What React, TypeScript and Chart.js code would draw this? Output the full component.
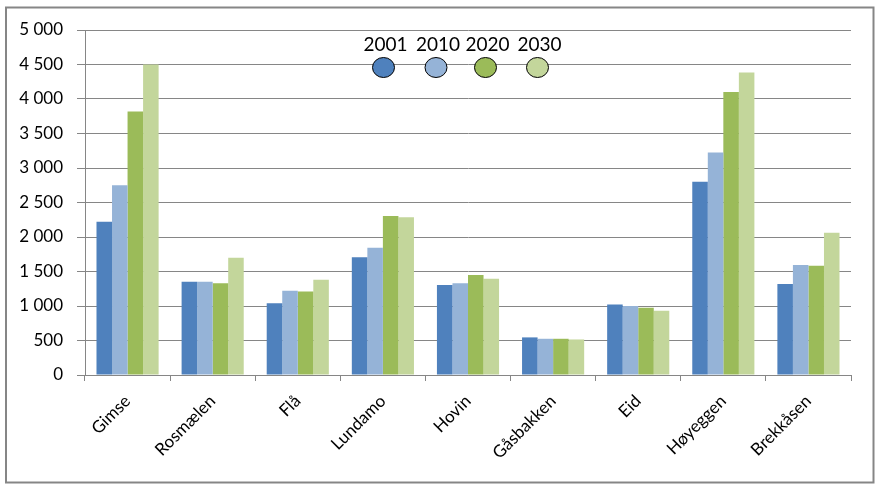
import React, { useEffect, useRef } from "react";
import { Chart, registerables } from "chart.js";

Chart.register(...registerables);

const categories = ["Gimse", "Rosmælen", "Flå", "Lundamo", "Hovin", "Gåsbakken", "Eid", "Høyeggen", "Brekkåsen"];
const seriesLabels = ["2001", "2010", "2020", "2030"];
const values2001 = [2220, 1350, 1040, 1705, 1305, 545, 1020, 2800, 1320];
const values2010 = [2750, 1350, 1220, 1845, 1330, 525, 1000, 3225, 1595];
const values2020 = [3820, 1330, 1210, 2305, 1450, 525, 975, 4100, 1585];
const values2030 = [4500, 1700, 1380, 2285, 1395, 515, 930, 4385, 2060];
const seriesColors = ["#4F81BD", "#95B3D7", "#9BBB59", "#C3D69B"];
const yTickMax = 5000;
const yTickStep = 500;

const FONT = "Lato, 'Open Sans', sans-serif";

const fmt = (v: number) => String(v).replace(/\B(?=(\d{3})+(?!\d))/g, " ");

const frameAndLegend = {
  id: "frameAndLegend",
  afterDraw(chart: any) {
    const ctx = chart.ctx;
    ctx.save();
    // outer frame
    ctx.strokeStyle = "#868686";
    ctx.lineWidth = 2;
    ctx.strokeRect(6, 7.5, 867.5, 475);
    // legend
    const centers = [383.5, 436, 485.5, 537.5];
    const cy = 67.5;
    chart.data.datasets.forEach((ds: any, i: number) => {
      const cx = centers[i];
      ctx.beginPath();
      ctx.ellipse(cx, cy, 11, 10, 0, 0, Math.PI * 2);
      ctx.fillStyle = ds.backgroundColor;
      ctx.fill();
      ctx.lineWidth = 1;
      ctx.strokeStyle = "#000";
      ctx.stroke();
      ctx.fillStyle = "#000";
      ctx.font = `19px ${FONT}`;
      ctx.textAlign = "center";
      ctx.textBaseline = "middle";
      ctx.fillText(ds.label, cx + 2, 44.5);
    });
    ctx.restore();
  },
};

export default function App() {
  const ref = useRef<HTMLCanvasElement>(null);
  useEffect(() => {
    document.body.style.margin = "0";
    const all = [values2001, values2010, values2020, values2030];
    const chart = new Chart(ref.current!, {
      type: "bar",
      data: {
        labels: categories,
        datasets: all.map((d, i) => ({
          label: seriesLabels[i],
          data: d,
          backgroundColor: seriesColors[i],
          borderWidth: 0,
          categoryPercentage: 0.73,
          barPercentage: 1.0,
        })),
      },
      options: {
        responsive: false,
        animation: false,
        devicePixelRatio: 1,
        layout: { padding: { left: 10, top: 30, right: 29, bottom: 10 } },
        plugins: { legend: { display: false }, tooltip: { enabled: false } },
        scales: {
          x: {
            grid: {
              offset: true,
              drawOnChartArea: false,
              drawTicks: true,
              tickLength: 6,
              color: "#868686",
            },
            border: { color: "#868686", width: 1 },
            ticks: {
              color: "#000",
              font: { family: FONT, size: 17 },
              minRotation: 45,
              maxRotation: 45,
              padding: 10,
              autoSkip: false,
            },
            afterFit: (s: any) => {
              s.height = 103;
            },
          },
          y: {
            min: 0,
            max: yTickMax,
            grid: { color: "#868686", tickLength: 8, drawTicks: true },
            border: { color: "#868686", width: 1 },
            ticks: {
              stepSize: yTickStep,
              color: "#000",
              font: { family: FONT, size: 17 },
              padding: 14,
              callback: (v: any) => fmt(Number(v)),
            },
            afterFit: (s: any) => {
              s.width = 75;
            },
          },
        },
      },
      plugins: [frameAndLegend],
    });
    return () => chart.destroy();
  }, []);
  return (
    <div style={{ position: "absolute", left: 0, top: 0, width: 880, height: 488, background: "#fff" }}>
      <canvas ref={ref} width={880} height={488} style={{ width: 880, height: 488, display: "block" }} />
    </div>
  );
}
